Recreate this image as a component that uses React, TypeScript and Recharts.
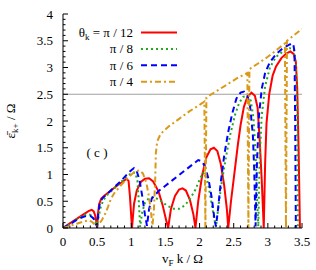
import React from "react";
import { LineChart, Line, XAxis, YAxis, ReferenceLine, Legend } from "recharts";

const FONT = "'Liberation Serif', 'DejaVu Serif', serif";

const xMajor = [0, 0.5, 1, 1.5, 2, 2.5, 3, 3.5];
const yMajor = [0, 0.5, 1, 1.5, 2, 2.5, 3, 3.5, 4];
const xTicks = Array.from({ length: 36 }, (_, i) => i / 10);
const yTicks = Array.from({ length: 41 }, (_, i) => i / 10);

const legendLabels = ["π / 12", "π / 8", "π / 6", "π / 4"];

// theta_k = pi/12
const pi12 = [
  [0, 0], [0.1, 0.085], [0.2, 0.17], [0.3, 0.255], [0.38, 0.32], [0.42, 0.34], [0.45, 0.31], [0.47, 0.24],
  [0.49, 0.1], [0.5, 0], [0.51, 0.25], [0.53, 0.45], [0.56, 0.55], [0.6, 0.6], [0.7, 0.7], [0.8, 0.8],
  [0.88, 0.87], [0.93, 0.92], [0.96, 0.88], [0.98, 0.6], [1.0, 0.2], [1.01, 0], [1.04, 0.45], [1.08, 0.7],
  [1.14, 0.86], [1.2, 0.92], [1.26, 0.93], [1.32, 0.87], [1.4, 0.68], [1.46, 0.42], [1.51, 0.15], [1.54, 0],
  [1.58, 0.35], [1.64, 0.6], [1.7, 0.72], [1.75, 0.74], [1.8, 0.7], [1.86, 0.52], [1.91, 0.25], [1.94, 0],
  [1.98, 0.5], [2.04, 1.0], [2.1, 1.32], [2.16, 1.47], [2.21, 1.5], [2.26, 1.44], [2.31, 1.2], [2.36, 0.8],
  [2.4, 0.35], [2.42, 0], [2.46, 0.5], [2.51, 1.02], [2.56, 1.55], [2.6, 1.92], [2.65, 2.27], [2.7, 2.45],
  [2.76, 2.53], [2.81, 2.47], [2.85, 2.25], [2.88, 1.65], [2.91, 0.9], [2.94, 0], [2.96, 1.2], [2.98, 1.95],
  [3.02, 2.5], [3.07, 2.85], [3.12, 3.02], [3.2, 3.18], [3.27, 3.26], [3.33, 3.3], [3.38, 3.25], [3.41, 3.1],
  [3.43, 2.6], [3.45, 1.5], [3.47, 0],
];

// theta_k = pi/8
const pi8 = [
  [0, 0], [0.1, 0.08], [0.2, 0.16], [0.3, 0.24], [0.36, 0.26], [0.41, 0.24], [0.45, 0.18], [0.48, 0.1],
  [0.5, 0.06], [0.52, 0.2], [0.55, 0.38], [0.59, 0.52], [0.65, 0.62], [0.75, 0.74], [0.85, 0.86], [0.95, 0.98],
  [1.02, 1.04], [1.06, 1.03], [1.09, 0.88], [1.11, 0.5], [1.13, 0.02], [1.16, 0.3], [1.2, 0.47], [1.26, 0.56],
  [1.33, 0.58], [1.42, 0.52], [1.52, 0.42], [1.62, 0.36], [1.7, 0.36], [1.78, 0.42], [1.86, 0.54], [1.94, 0.72],
  [2.0, 0.9], [2.05, 1.03], [2.09, 1.0], [2.13, 0.8], [2.17, 0.5], [2.21, 0.2], [2.24, 0.02], [2.28, 0.45],
  [2.33, 0.9], [2.39, 1.35], [2.45, 1.75], [2.52, 2.12], [2.58, 2.34], [2.64, 2.45], [2.7, 2.48], [2.75, 2.38],
  [2.79, 2.05], [2.82, 1.4], [2.84, 0.6], [2.86, 0.03], [2.88, 1.3], [2.91, 2.1], [2.96, 2.65], [3.03, 3.0],
  [3.12, 3.2], [3.22, 3.3], [3.32, 3.36], [3.38, 3.34], [3.41, 3.05], [3.43, 2.0], [3.44, 0],
];

// theta_k = pi/6
const pi6 = [
  [0, 0], [0.1, 0.07], [0.2, 0.15], [0.3, 0.21], [0.36, 0.23], [0.41, 0.22], [0.45, 0.17], [0.48, 0.08],
  [0.5, 0.03], [0.52, 0.3], [0.54, 0.47], [0.58, 0.56], [0.65, 0.64], [0.75, 0.76], [0.85, 0.88], [0.95, 1.02],
  [1.0, 1.08], [1.04, 1.12], [1.08, 1.06], [1.12, 0.9], [1.16, 0.6], [1.2, 0.25], [1.23, 0.04], [1.26, 0.35],
  [1.3, 0.55], [1.4, 0.69], [1.5, 0.79], [1.6, 0.89], [1.7, 0.99], [1.8, 1.09], [1.9, 1.19], [1.98, 1.27],
  [2.03, 1.25], [2.08, 1.15], [2.13, 0.92], [2.18, 0.55], [2.22, 0.15], [2.24, 0.03], [2.27, 0.35], [2.31, 0.85],
  [2.36, 1.35], [2.42, 1.8], [2.48, 2.15], [2.54, 2.42], [2.6, 2.53], [2.65, 2.55], [2.7, 2.48], [2.74, 2.27],
  [2.78, 1.75], [2.8, 1.1], [2.82, 0.03], [2.84, 1.2], [2.87, 2.1], [2.91, 2.6], [2.96, 2.9], [3.03, 3.1],
  [3.12, 3.25], [3.22, 3.36], [3.32, 3.43], [3.37, 3.45], [3.39, 3.3], [3.4, 2.0], [3.41, 0],
];

// theta_k = pi/4
const pi4 = [
  [0, 0], [0.1, 0.04], [0.2, 0.08], [0.3, 0.12], [0.37, 0.14], [0.42, 0.12], [0.46, 0.07], [0.49, 0.03],
  [0.52, 0.06], [0.57, 0.15], [0.62, 0.27], [0.66, 0.4], [0.7, 0.54], [0.75, 0.65], [0.85, 0.8], [0.95, 0.94],
  [1.05, 1.05], [1.12, 1.08], [1.17, 1.02], [1.22, 0.85], [1.26, 0.58], [1.29, 0.28], [1.31, 0.05], [1.33, 0.3],
  [1.35, 0.9], [1.36, 1.4], [1.38, 1.62], [1.43, 1.76], [1.55, 1.9], [1.7, 2.04], [1.85, 2.18], [2.0, 2.3],
  [2.07, 2.36], [2.085, 0], [2.1, 2.44], [2.25, 2.56], [2.4, 2.68], [2.55, 2.8], [2.7, 2.9], [2.715, 0],
  [2.73, 2.97], [2.85, 3.07], [3.0, 3.2], [3.15, 3.35], [3.25, 3.45], [3.265, 0], [3.28, 3.5], [3.4, 3.62],
  [3.5, 3.72],
];

const toPts = (arr: number[][]) => arr.map(([x, y]) => ({ x, y }));

const series = [
  { name: legendLabels[0], data: toPts(pi12), color: "#ff0000", dash: undefined as string | undefined },
  { name: legendLabels[1], data: toPts(pi8), color: "#22aa22", dash: "2 3" },
  { name: legendLabels[2], data: toPts(pi6), color: "#0000ff", dash: "6 4" },
  { name: legendLabels[3], data: toPts(pi4), color: "#d99a1a", dash: "6 3 2 3" },
];

const isMajor = (v: number) => Math.round(v * 10) % 5 === 0;
const fmt = (v: number) => String(Math.round(v * 10) / 10);

function BottomTick(props: any) {
  const { x, y, payload } = props;
  const major = isMajor(payload.value);
  return (
    <g>
      <line x1={x} x2={x} y1={y} y2={y - (major ? 5 : 2.5)} stroke="#000" />
      {major && (
        <text x={x} y={y + 18} textAnchor="middle" fontSize={13} fontFamily={FONT} fill="#000">
          {fmt(payload.value)}
        </text>
      )}
    </g>
  );
}

function LeftTick(props: any) {
  const { x, y, payload } = props;
  const major = isMajor(payload.value);
  return (
    <g>
      <line x1={x} x2={x + (major ? 5 : 2.5)} y1={y} y2={y} stroke="#000" />
      {major && (
        <text x={x - 10} y={y + 4.5} textAnchor="end" fontSize={13} fontFamily={FONT} fill="#000">
          {fmt(payload.value)}
        </text>
      )}
    </g>
  );
}

function TopTick(props: any) {
  const { x, y, payload } = props;
  const major = isMajor(payload.value);
  return <line x1={x} x2={x} y1={y} y2={y + (major ? 5 : 2.5)} stroke="#000" />;
}

function RightTick(props: any) {
  const { x, y, payload } = props;
  const major = isMajor(payload.value);
  return <line x1={x} x2={x - (major ? 5 : 2.5)} y1={y} y2={y} stroke="#000" />;
}

function LegendBox() {
  return (
    <svg width={190} height={95}>
      {series.map((s, i) => {
        const cy = 32.5 + i * 16.4;
        return (
          <g key={s.name}>
            <text x={133} y={cy + 4.5} textAnchor="end" fontSize={13} fontFamily={FONT} fill="#000">
              {i === 0 ? (
                <>
                  θ<tspan dy={3} fontSize={9}>k</tspan>
                  <tspan dy={-3}> = {s.name}</tspan>
                </>
              ) : (
                s.name
              )}
            </text>
            <line x1={141} x2={177} y1={cy} y2={cy} stroke={s.color} strokeWidth={2} strokeDasharray={s.dash} />
          </g>
        );
      })}
    </svg>
  );
}

export default function App() {
  return (
    <div style={{ position: "absolute", left: 0, top: 0, width: 316, height: 270, background: "#fff" }}>
      <LineChart width={316} height={270} margin={{ top: 14, right: 14, left: 0, bottom: 0 }}>
        <XAxis
          dataKey="x"
          type="number"
          domain={[0, 3.5]}
          allowDataOverflow
          ticks={xTicks}
          interval={0}
          height={42}
          tickSize={0}
          tickMargin={0}
          tickLine={false}
          tick={<BottomTick />}
          axisLine={{ stroke: "#000" }}
        />
        <XAxis
          xAxisId="top"
          orientation="top"
          type="number"
          domain={[0, 3.5]}
          allowDataOverflow
          ticks={xTicks}
          interval={0}
          height={0}
          tickSize={0}
          tickMargin={0}
          tickLine={false}
          tick={<TopTick />}
          axisLine={{ stroke: "#000" }}
        />
        <YAxis
          type="number"
          domain={[0, 4]}
          allowDataOverflow
          ticks={yTicks}
          interval={0}
          width={63}
          tickSize={0}
          tickMargin={0}
          tickLine={false}
          tick={<LeftTick />}
          axisLine={{ stroke: "#000" }}
        />
        <YAxis
          yAxisId="right"
          orientation="right"
          type="number"
          domain={[0, 4]}
          allowDataOverflow
          ticks={yTicks}
          interval={0}
          width={0}
          tickSize={0}
          tickMargin={0}
          tickLine={false}
          tick={<RightTick />}
          axisLine={{ stroke: "#000" }}
        />
        <ReferenceLine y={2.5} stroke="#a0a0a0" strokeWidth={1} />
        {series.map((s) => (
          <Line
            key={s.name}
            data={s.data}
            dataKey="y"
            name={s.name}
            type="linear"
            stroke={s.color}
            strokeWidth={2}
            strokeDasharray={s.dash}
            dot={false}
            isAnimationActive={false}
          />
        ))}
        <Legend
          layout="vertical"
          align="center"
          verticalAlign="middle"
          content={<LegendBox />}
          wrapperStyle={{ position: "absolute", left: 0, top: 0, width: 190, height: 95 }}
        />
      </LineChart>
      <svg
        width={316}
        height={270}
        style={{ position: "absolute", left: 0, top: 0, pointerEvents: "none" }}
      >
        <text x={97} y={157} textAnchor="middle" fontSize={13} fontFamily={FONT} fill="#000">
          ( c )
        </text>
        <text x={182.5} y={263} textAnchor="middle" fontSize={13} fontFamily={FONT} fill="#000">
          v<tspan dy={2.5} fontSize={9}>F</tspan>
          <tspan dy={-2.5}> k / Ω</tspan>
        </text>
        <text
          x={0}
          y={0}
          transform="translate(15,121) rotate(-90)"
          textAnchor="middle"
          fontSize={13}
          fontFamily={FONT}
          fill="#000"
        >
          ε̄<tspan dy={3} fontSize={9}>k+</tspan>
          <tspan dy={-3}> / Ω</tspan>
        </text>
      </svg>
    </div>
  );
}
